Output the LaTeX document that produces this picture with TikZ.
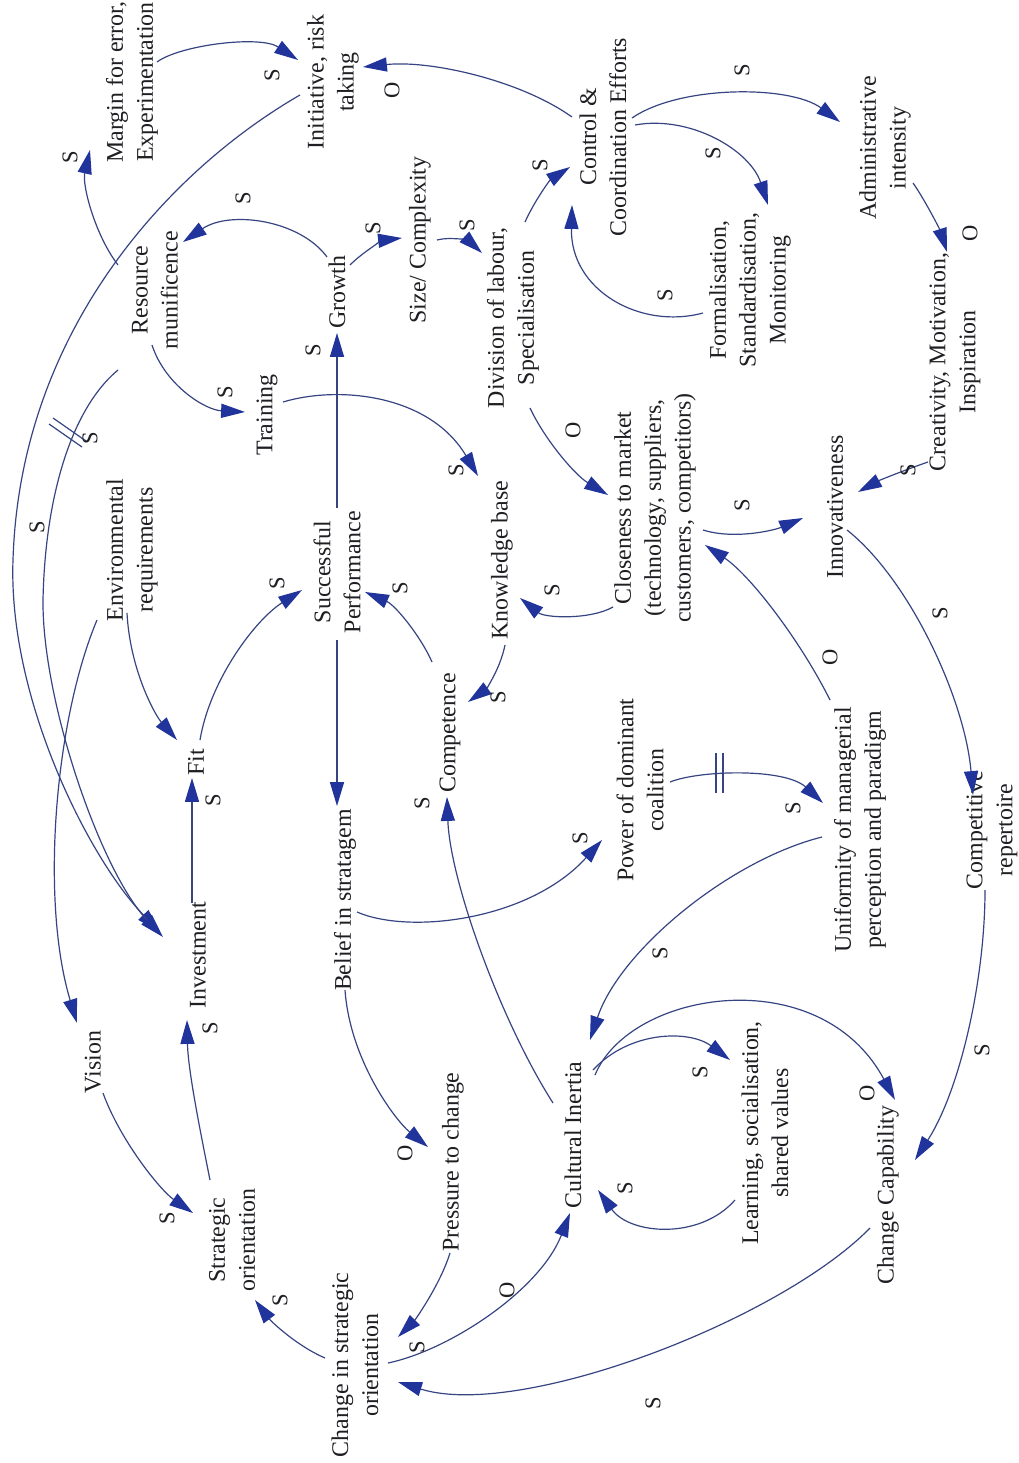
\documentclass[tikz,border=0pt]{standalone}
\usepackage{fontspec}
\setmainfont{Liberation Serif}
\usetikzlibrary{arrows.meta,calc}
\definecolor{linec}{RGB}{55,68,130}
\definecolor{arrowc}{RGB}{32,52,155}
\definecolor{txtc}{RGB}{30,30,35}
\begin{document}
\begin{tikzpicture}[x=0.025cm,y=-0.025cm,
  txt/.style={rotate=90,align=center,inner sep=0pt,text=txtc,font=\fontsize{17}{21.3}\selectfont},
  lab/.style={rotate=90,inner sep=0pt,text=txtc,font=\fontsize{16}{19}\selectfont},
  lnk/.style={draw=linec,line width=0.85pt,-{Triangle[length=17pt,width=10pt,color=arrowc]}},
  delaymark/.style={draw=linec,line width=0.85pt}]
\fill[white] (0,0) rectangle (1018,1463);
\useasboundingbox (0,0) rectangle (1018,1463);

% ---------- nodes ----------
\node[txt] (margin) at (132,82) {Margin for error,\\Experimentation};
\node[txt] (initiative) at (333,82) {Initiative, risk\\taking};
\node[txt] (control) at (603,137) {Control \&\\Coordination Efforts};
\node[txt] (admin) at (885,148) {Administrative\\intensity};
\node[txt] (resource) at (155,290) {Resource\\munificence};
\node[txt] (growth) at (337,292) {Growth};
\node[txt] (size) at (420,240) {Size/ Complexity};
\node[txt] (division) at (513,318) {Division of labour,\\Specialisation};
\node[txt] (formal) at (750,290) {Formalisation,\\Standardisation,\\Monitoring};
\node[txt] (creativity) at (955,362) {Creativity, Motivation,\\Inspiration};
\node[txt] (training) at (267,415) {Training};
\node[txt] (knowledge) at (502,560) {Knowledge base};
\node[txt] (closeness) at (655,508) {Closeness to market\\(technology, suppliers,\\customers, competitors)};
\node[txt] (innov) at (835,507) {Innovativeness};
\node[txt] (env) at (132,550) {Environmental\\requirements};
\node[txt] (success) at (337,572) {Successful\\Performance};
\node[txt] (fit) at (196,762) {Fit};
\node[txt] (competence) at (450,733) {Competence};
\node[txt] (power) at (640,790) {Power of dominant\\coalition};
\node[txt] (uniform) at (860,830) {Uniformity of managerial\\perception and paradigm};
\node[txt] (competitive) at (992,830) {Competitive\\repertoire};
\node[txt] (investment) at (198,955) {Investment};
\node[txt] (belief) at (345,900) {Belief in stratagem};
\node[txt] (vision) at (93,1062) {Vision};
\node[txt] (pressure) at (453,1162) {Pressure to change};
\node[txt] (cultural) at (573,1135) {Cultural Inertia};
\node[txt] (learning) at (765,1133) {Learning, socialisation,\\shared values};
\node[txt] (changecap) at (888,1195) {Change Capability};
\node[txt] (strategic) at (232,1240) {Strategic\\orientation};
\node[txt] (changeso) at (355,1365) {Change in strategic\\orientation};

% ---------- connectors ----------
\draw[lnk] ($(margin)+(25,-20)$) .. controls (180,45) and (260,35) .. ($(initiative)+(-35,-22)$);
\draw[lnk] ($(resource)+(-37,-25)$) .. controls (95,235) and (82,185) .. ($(margin)+(-42,68)$);
\draw[lnk] ($(growth)+(-10,-35)$) .. controls (300,220) and (230,210) .. ($(resource)+(28,-48)$);
\draw[lnk] ($(resource)+(-3,55)$) .. controls (165,385) and (205,410) .. ($(training)+(-22,-3)$);
\draw[lnk] ($(success)+(0,-64)$) -- ($(growth)+(0,41)$);
\draw[lnk] ($(success)+(0,68)$) -- ($(belief)+(-8,-94)$);
\draw[lnk] ($(growth)+(13,-27)$) .. controls (365,250) and (385,240) .. ($(size)+(-18,-2)$);
\draw[lnk] ($(size)+(17,0)$) .. controls (452,236) and (470,242) .. ($(division)+(-31,-65)$);
\draw[lnk] ($(division)+(12,-96)$) .. controls (535,200) and (550,180) .. ($(control)+(-33,30)$);
\draw[lnk] ($(control)+(-31,-20)$) .. controls (520,80) and (430,60) .. ($(initiative)+(30,-15)$);
\draw[lnk] ($(formal)+(-47,23)$) .. controls (640,330) and (570,290) .. ($(control)+(-31,68)$);
\draw[lnk] ($(control)+(32,-12)$) .. controls (690,115) and (750,150) .. ($(formal)+(18,-85)$);
\draw[lnk] ($(control)+(29,-19)$) .. controls (680,85) and (790,85) .. ($(admin)+(-45,-26)$);
\draw[lnk] ($(admin)+(28,35)$) .. controls (925,200) and (940,230) .. ($(creativity)+(-8,-110)$);
\draw[lnk] ($(creativity)+(-27,100)$) .. controls (905,470) and (880,480) .. ($(innov)+(23,-15)$);
\draw[lnk] ($(closeness)+(48,22)$) .. controls (735,540) and (775,530) .. ($(innov)+(-32,11)$);
\draw[lnk] ($(closeness)+(-42,99)$) .. controls (590,620) and (545,618) .. ($(knowledge)+(18,38)$);
\draw[lnk] ($(division)+(17,90)$) .. controls (545,440) and (575,475) .. ($(closeness)+(-47,-13)$);
\draw[lnk] ($(training)+(16,-13)$) .. controls (340,385) and (430,395) .. ($(knowledge)+(-24,-84)$);
\draw[lnk] ($(knowledge)+(3,85)$) .. controls (500,670) and (485,690) .. ($(competence)+(18,-31)$);
\draw[lnk] ($(competence)+(-18,-71)$) .. controls (420,635) and (395,605) .. ($(success)+(28,20)$);
\draw[lnk] ($(belief)+(12,12)$) .. controls (410,935) and (530,920) .. ($(power)+(-38,50)$);
\draw[lnk] ($(cultural)+(-20,-32)$) .. controls (500,1020) and (450,880) .. ($(competence)+(-3,64)$);
\draw[lnk] ($(uniform)+(-30,-130)$) .. controls (800,640) and (750,575) .. ($(closeness)+(50,37)$);
\draw[lnk] ($(innov)+(12,23)$) .. controls (910,580) and (965,700) .. ($(competitive)+(-19,-35)$);
\draw[lnk] ($(competitive)+(-7,60)$) .. controls (985,980) and (960,1090) .. ($(changecap)+(27,-35)$);
\draw[lnk] ($(power)+(30,-8)$) .. controls (700,770) and (785,768) .. ($(uniform)+(-37,-27)$);
\draw[lnk] ($(uniform)+(-38,7)$) .. controls (730,860) and (620,950) .. ($(cultural)+(17,-95)$);
\draw[lnk] ($(cultural)+(20,-65)$) .. controls (630,1030) and (690,1030) .. ($(learning)+(-35,-73)$);
\draw[lnk] ($(learning)+(-30,67)$) .. controls (700,1240) and (630,1235) .. ($(cultural)+(25,55)$);
\draw[lnk] ($(cultural)+(22,-60)$) .. controls (630,990) and (820,960) .. ($(changecap)+(7,-95)$);
\draw[lnk] ($(changecap)+(-18,33)$) .. controls (780,1320) and (520,1420) .. ($(changeso)+(43,17)$);
\draw[lnk] ($(changeso)+(33,-2)$) .. controls (450,1350) and (540,1290) .. ($(cultural)+(-3,78)$);
\draw[lnk] ($(pressure)+(-3,91)$) .. controls (440,1285) and (415,1320) .. ($(changeso)+(43,-28)$);
\draw[lnk] ($(belief)+(0,90)$) .. controls (350,1060) and (395,1120) .. ($(pressure)+(-25,-15)$);
\draw[lnk] ($(changeso)+(-30,-7)$) .. controls (295,1345) and (270,1320) .. ($(strategic)+(23,60)$);
\draw[lnk] ($(vision)+(10,31)$) .. controls (120,1140) and (160,1190) .. ($(strategic)+(-39,-27)$);
\draw[lnk] ($(strategic)+(-22,-60)$) .. controls (200,1130) and (188,1070) .. ($(investment)+(-11,65)$);
\draw[lnk] ($(investment)+(-6,-52)$) -- ($(fit)+(-4,16)$);
\draw[lnk] ($(env)+(-5,63)$) .. controls (130,670) and (155,715) .. ($(fit)+(-19,-22)$);
\draw[lnk] ($(fit)+(4,-22)$) .. controls (210,680) and (255,620) .. ($(success)+(-35,18)$);
\draw[lnk] ($(env)+(-35,70)$) .. controls (55,720) and (40,900) .. ($(vision)+(-16,-39)$);
\draw[lnk] ($(initiative)+(-33,13)$) .. controls (170,170) and (20,330) .. (13,560) .. controls (8,700) and (90,860) .. ($(investment)+(-38,-23)$);
\draw[lnk] ($(resource)+(-37,80)$) .. controls (70,410) and (45,500) .. (43,600) .. controls (42,700) and (100,870) .. ($(investment)+(-35,-18)$);

% delay marks
\draw[delaymark] (53,418) -- (86,441);
\draw[delaymark] (49,424) -- (82,447);
\draw[delaymark] (716,753) -- (716,793);
\draw[delaymark] (723,753) -- (723,793);

% ---------- polarity labels ----------
\node[lab] (l1) at (272,75) {S};
\node[lab] (l2) at (70,157) {S};
\node[lab] (l3) at (243,198) {S};
\node[lab] (l4) at (225,392) {S};
\node[lab] (l5) at (313,350) {S};
\node[lab] (l6) at (373,228) {S};
\node[lab] (l7) at (467,225) {S};
\node[lab] (l8) at (540,165) {S};
\node[lab] (l9) at (392,90) {O};
\node[lab] (l10) at (665,295) {S};
\node[lab] (l11) at (713,153) {S};
\node[lab] (l12) at (742,70) {S};
\node[lab] (l13) at (970,233) {O};
\node[lab] (l14) at (908,470) {S};
\node[lab] (l15) at (742,505) {S};
\node[lab] (l16) at (552,590) {S};
\node[lab] (l17) at (573,430) {O};
\node[lab] (l18) at (456,470) {S};
\node[lab] (l19) at (498,697) {S};
\node[lab] (l20) at (400,588) {S};
\node[lab] (l21) at (580,838) {S};
\node[lab] (l22) at (422,803) {S};
\node[lab] (l23) at (830,657) {O};
\node[lab] (l24) at (940,613) {S};
\node[lab] (l25) at (982,1050) {S};
\node[lab] (l26) at (793,808) {S};
\node[lab] (l27) at (660,953) {S};
\node[lab] (l28) at (700,1072) {S};
\node[lab] (l29) at (625,1188) {S};
\node[lab] (l30) at (867,1093) {O};
\node[lab] (l31) at (653,1403) {S};
\node[lab] (l32) at (507,1290) {O};
\node[lab] (l33) at (417,1347) {S};
\node[lab] (l34) at (405,1153) {O};
\node[lab] (l35) at (280,1300) {S};
\node[lab] (l36) at (167,1218) {S};
\node[lab] (l37) at (210,1028) {S};
\node[lab] (l38) at (213,800) {S};
\node[lab] (l39) at (277,583) {S};
\node[lab] (l40) at (37,527) {S};
\node[lab] (l41) at (90,438) {S};
\end{tikzpicture}
\end{document}
